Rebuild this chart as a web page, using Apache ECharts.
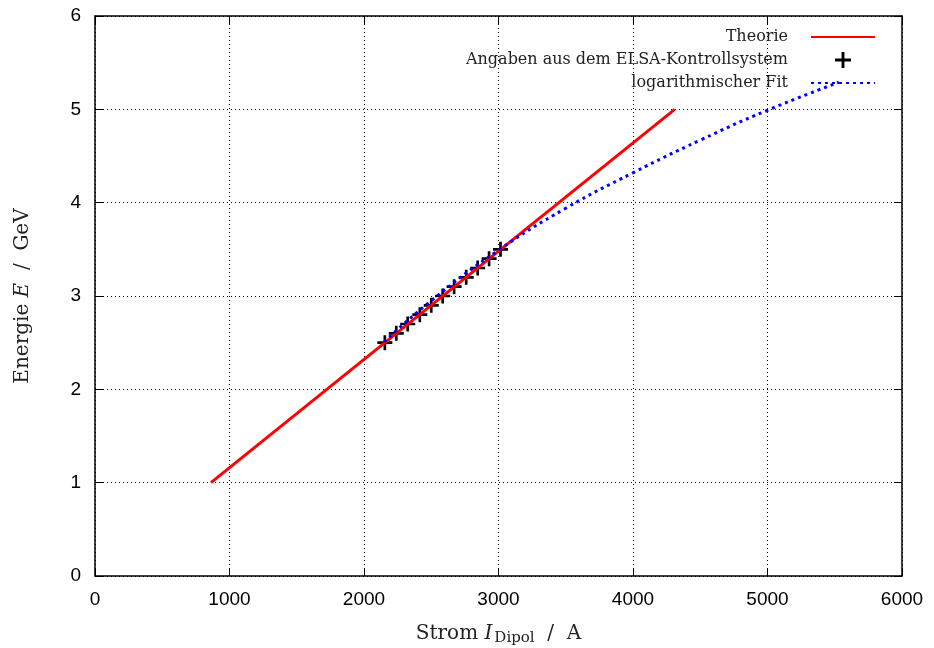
<!DOCTYPE html>
<html>
<head>
<meta charset="utf-8">
<script src="https://cdn.jsdelivr.net/npm/echarts@6/dist/echarts.min.js"></script>
<style>html,body{margin:0;padding:0;background:#fff}#c{width:934px;height:648px}</style>
</head>
<body>
<div id="c"></div>
<script>
// Data
const theoryCurrent = [862, 4310];
const theoryEnergy = [1.0, 5.0];
const elsaCurrent = [2155, 2240, 2325, 2415, 2500, 2585, 2670, 2760, 2845, 2930, 3015];
const elsaEnergy = [2.5, 2.6, 2.7, 2.8, 2.9, 3.0, 3.1, 3.2, 3.3, 3.4, 3.5];
const fitCurrent = [2150, 2500, 3000, 3500, 4000, 4500, 5000, 5530];
const fitEnergy = [2.51, 2.95, 3.49, 3.94, 4.32, 4.67, 4.99, 5.29];
const xTicks = [0, 1000, 2000, 3000, 4000, 5000, 6000];
const yTicks = [0, 1, 2, 3, 4, 5, 6];

const zip = (a, b) => a.map((v, i) => [v, b[i]]);
const plusPath = 'path://M5.75,0h2.5v5.75h5.75v2.5h-5.75v5.75h-2.5v-5.75h-5.75v-2.5h5.75z';
const serif = '"DejaVu Serif", "Liberation Serif", serif';
const sans = '"Liberation Sans", Arial, sans-serif';
const gridLine = { show: true, lineStyle: { color: '#000', width: 1, type: [1, 3] } };
const frameLine = { show: true, onZero: false, lineStyle: { color: '#000', width: 1.5 } };
const tick = { show: true, inside: true, length: 8, lineStyle: { color: '#000', width: 1 } };
const hiddenSymbol = { color: 'rgba(0,0,0,0)', borderWidth: 0, opacity: 0 };

const chart = echarts.init(document.getElementById('c'), null, { renderer: 'canvas' });
chart.setOption({
  animation: false,
  backgroundColor: '#fff',
  grid: { left: 95, right: 32, top: 16, bottom: 72, containLabel: false, outerBoundsMode: 'none' },
  legend: {
    orient: 'vertical',
    right: 53,
    top: 24,
    align: 'right',
    itemWidth: 64,
    itemHeight: 16,
    itemGap: 7,
    selectedMode: false,
    textStyle: { fontFamily: serif, fontSize: 16, color: '#222', padding: [0, 18, 0, 0] },
    data: [
      { name: 'Theorie', itemStyle: hiddenSymbol },
      { name: 'Angaben aus dem ELSA-Kontrollsystem', icon: plusPath, itemStyle: { color: '#000' } },
      { name: 'logarithmischer Fit', itemStyle: hiddenSymbol }
    ]
  },
  xAxis: [{
    type: 'value', min: 0, max: 6000, interval: 1000,
    name: '{n|Strom }{i|I}{s|Dipol}{n|  /  A}', nameLocation: 'middle', nameGap: 46,
    nameTextStyle: { rich: {
      n: { fontFamily: serif, fontSize: 20, color: '#222' },
      i: { fontFamily: serif, fontSize: 20, fontStyle: 'italic', color: '#222' },
      s: { fontFamily: serif, fontSize: 15, color: '#222', verticalAlign: 'bottom', padding: [9, 0, 0, 2] }
    } },
    axisLine: frameLine,
    axisTick: tick,
    axisLabel: { fontFamily: sans, fontSize: 19, color: '#000', margin: 14,
      formatter: v => xTicks.includes(v) ? String(v) : '' },
    splitLine: gridLine
  }, {
    type: 'value', min: 0, max: 6000, interval: 1000, position: 'top',
    axisLine: frameLine, axisTick: tick,
    axisLabel: { show: false }, splitLine: { show: false }
  }],
  yAxis: [{
    type: 'value', min: 0, max: 6, interval: 1,
    name: '{n|Energie }{i|E}{n|  /  GeV}', nameLocation: 'middle', nameGap: 62, nameRotate: 90,
    nameTextStyle: { rich: {
      n: { fontFamily: serif, fontSize: 20, color: '#222' },
      i: { fontFamily: serif, fontSize: 20, fontStyle: 'italic', color: '#222' }
    } },
    axisLine: frameLine,
    axisTick: tick,
    axisLabel: { fontFamily: sans, fontSize: 19, color: '#000', margin: 14,
      formatter: v => yTicks.includes(v) ? String(v) : '' },
    splitLine: gridLine
  }, {
    type: 'value', min: 0, max: 6, interval: 1, position: 'right',
    axisLine: frameLine, axisTick: tick,
    axisLabel: { show: false }, splitLine: { show: false }
  }],
  series: [{
    name: 'Theorie', type: 'line', data: zip(theoryCurrent, theoryEnergy),
    showSymbol: false, symbol: 'none', lineStyle: { color: '#ff0000', width: 3 }, itemStyle: { color: '#ff0000' }
  }, {
    name: 'Angaben aus dem ELSA-Kontrollsystem', type: 'scatter', data: zip(elsaCurrent, elsaEnergy),
    symbol: plusPath, symbolSize: 15, itemStyle: { color: '#000', opacity: 1 }
  }, {
    name: 'logarithmischer Fit', type: 'line', data: zip(fitCurrent, fitEnergy), smooth: true,
    showSymbol: false, symbol: 'none', lineStyle: { color: '#0000ff', width: 3, type: [3, 4] }, itemStyle: { color: '#0000ff' }
  }]
});
</script>
</body>
</html>
